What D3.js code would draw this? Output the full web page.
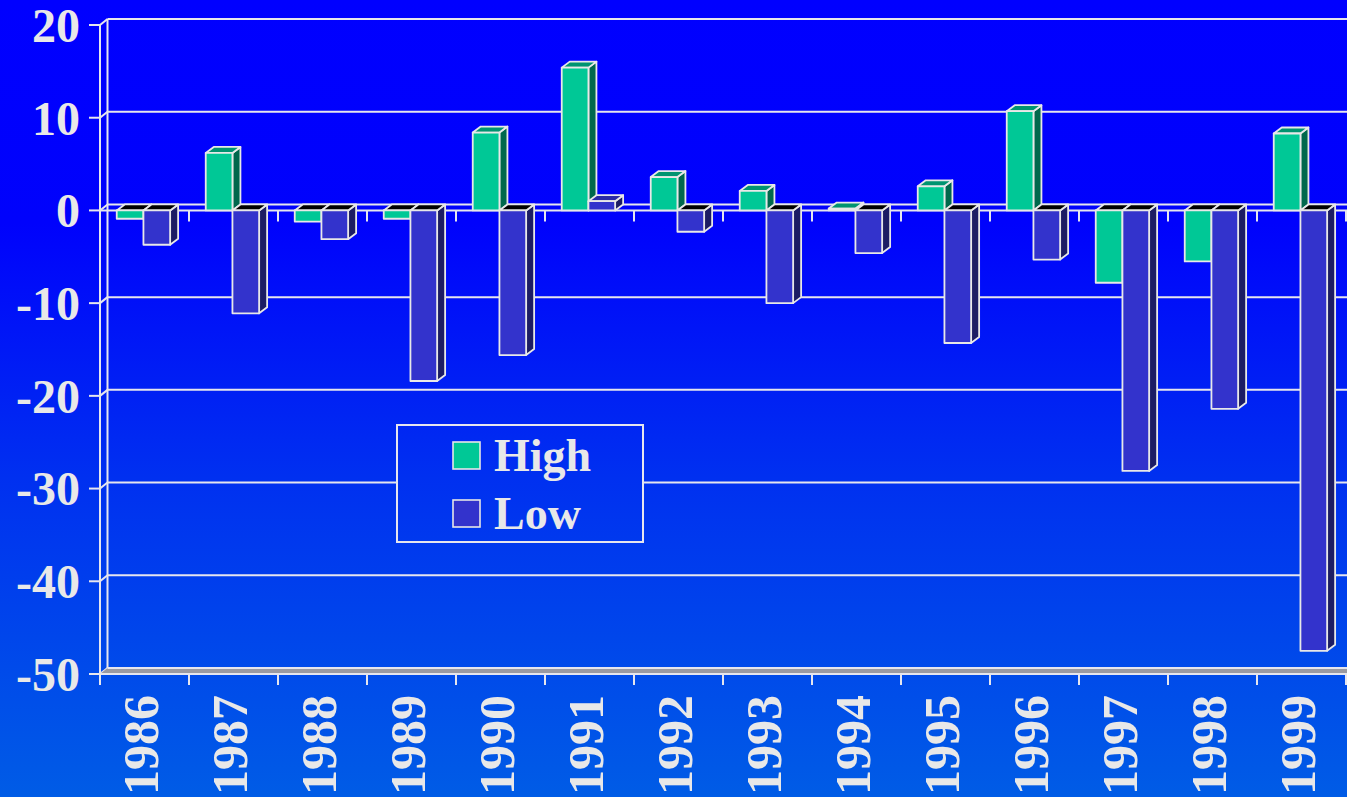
<!DOCTYPE html>
<html>
<head>
<meta charset="utf-8">
<script src="https://cdn.jsdelivr.net/npm/d3@7"></script>
<style>
  html, body { margin: 0; padding: 0; overflow: hidden; background: #0000ff; }
  svg { display: block; }
  text { font-family: "Liberation Serif", "Times New Roman", serif; font-weight: bold; fill: #e8e8e8; }
</style>
</head>
<body>
<script>
// Annual high / low changes, 1986–1999
const years = ["1986", "1987", "1988", "1989", "1990", "1991", "1992",
               "1993", "1994", "1995", "1996", "1997", "1998", "1999"];
const highValues = [-0.9, 6.2, -1.2, -0.9, 8.4, 15.4, 3.6, 2.1, 0.2, 2.6, 10.7, -7.8, -5.5, 8.3];
const lowValues = [-3.7, -11.1, -3.1, -18.4, -15.6, 1.0, -2.3, -10.0, -4.6, -14.3, -5.3, -28.1, -21.4, -47.5];
const seriesNames = ["High", "Low"];
const yTicks = [20, 10, 0, -10, -20, -30, -40, -50];

const W = 1347, H = 797;
const left = 100, right = 1346;
const depth = { dx: 7.5, dy: -6 };      // wall depth
const barDepth = { dx: 8, dy: -6 };     // bar depth
const lineColor = "#e6e6ee";

const colors = {
  High: { front: "#00c896", side: "#00684c", top: "#009470" },
  Low:  { front: "#3333cc", side: "#1c1c64", top: "#2a2aa6" }
};

const svg = d3.select("body").append("svg").attr("width", W).attr("height", H);

// background gradient (shared by the legend box)
const defs = svg.append("defs");
const grad = defs.append("linearGradient").attr("id", "bg")
  .attr("gradientUnits", "userSpaceOnUse")
  .attr("x1", 0).attr("y1", 0).attr("x2", 0).attr("y2", H);
[[0, "#0000ff"], [0.28, "#0002fc"], [0.6, "#0030f0"], [1, "#005ce6"]]
  .forEach(([o, c]) => grad.append("stop").attr("offset", o).attr("stop-color", c));
svg.append("rect").attr("width", W).attr("height", H).attr("fill", "url(#bg)");

const y = d3.scaleLinear().domain([-50, 20]).range([674, 25]);
const x0 = d3.scaleBand().domain(years).range([left, right]).padding(0);
const x1 = d3.scaleBand().domain(seriesNames).range([0, x0.bandwidth()])
  .paddingInner(0).paddingOuter(0.667).align(0.47);

const g = svg.append("g");

// back wall gridlines and left wall connectors
yTicks.filter(v => v > -50).forEach(v => {
  const yf = y(v);
  g.append("line").attr("x1", left + depth.dx).attr("x2", W + 10)
    .attr("y1", yf + depth.dy).attr("y2", yf + depth.dy)
    .attr("stroke", lineColor).attr("stroke-width", 2);
});
yTicks.forEach(v => {
  const yf = y(v);
  g.append("line").attr("x1", left).attr("y1", yf)
    .attr("x2", left + depth.dx).attr("y2", yf + depth.dy)
    .attr("stroke", lineColor).attr("stroke-width", 2);
  g.append("line").attr("x1", left - 11).attr("x2", left)
    .attr("y1", yf).attr("y2", yf)
    .attr("stroke", lineColor).attr("stroke-width", 2);
});

// back wall vertical edge
g.append("line").attr("x1", left + depth.dx).attr("x2", left + depth.dx)
  .attr("y1", y(20) + depth.dy).attr("y2", y(-50) + depth.dy)
  .attr("stroke", lineColor).attr("stroke-width", 2);

// floor
const yb = y(-50);
g.append("path")
  .attr("d", `M${left},${yb}L${left + depth.dx},${yb + depth.dy}L${W + 10},${yb + depth.dy}L${W + 10},${yb}Z`)
  .attr("fill", "#9a9aa2").attr("stroke", "none");
g.append("line").attr("x1", left + depth.dx).attr("x2", W + 10)
  .attr("y1", yb + depth.dy).attr("y2", yb + depth.dy)
  .attr("stroke", lineColor).attr("stroke-width", 2);
g.append("line").attr("x1", left).attr("x2", W + 10)
  .attr("y1", yb).attr("y2", yb)
  .attr("stroke", lineColor).attr("stroke-width", 2);

// front value axis
g.append("line").attr("x1", left).attr("x2", left)
  .attr("y1", y(20)).attr("y2", yb + 11)
  .attr("stroke", lineColor).attr("stroke-width", 2);

// category ticks along the floor and along the zero plane
const bounds = years.map(d => x0(d)).concat([right]);
bounds.forEach((bx, i) => {
  g.append("line").attr("x1", bx).attr("x2", bx).attr("y1", yb).attr("y2", yb + 11)
    .attr("stroke", lineColor).attr("stroke-width", 2);
  if (i > 0) {
    g.append("line").attr("x1", bx).attr("x2", bx).attr("y1", y(0)).attr("y2", y(0) + 11)
      .attr("stroke", lineColor).attr("stroke-width", 2);
  }
});

// zero plane front edge
g.append("line").attr("x1", left).attr("x2", W + 10)
  .attr("y1", y(0)).attr("y2", y(0))
  .attr("stroke", lineColor).attr("stroke-width", 2);

// 3D bars
const bars = [];
years.forEach((yr, i) => {
  bars.push({ year: yr, series: "High", value: highValues[i] });
  bars.push({ year: yr, series: "Low", value: lowValues[i] });
});

const barG = svg.append("g");
bars.forEach(b => {
  const bx = x0(b.year) + x1(b.series);
  const bw = x1.bandwidth();
  const yv = y(b.value), y0 = y(0);
  const top = Math.min(yv, y0), bot = Math.max(yv, y0);
  const c = colors[b.series];
  const dx = barDepth.dx, dy = barDepth.dy;
  const bg = barG.append("g").attr("stroke", "#e8e8e8").attr("stroke-width", 1.8)
    .attr("stroke-linejoin", "round");
  bg.append("path")
    .attr("d", `M${bx + bw},${top}L${bx + bw + dx},${top + dy}L${bx + bw + dx},${bot + dy}L${bx + bw},${bot}Z`)
    .attr("fill", c.side);
  bg.append("path")
    .attr("d", `M${bx},${top}L${bx + dx},${top + dy}L${bx + bw + dx},${top + dy}L${bx + bw},${top}Z`)
    .attr("fill", b.value >= 0 ? c.top : "#000000");
  bg.append("rect").attr("x", bx).attr("y", top).attr("width", bw).attr("height", Math.max(bot - top, 0.01))
    .attr("fill", c.front);
});

// value labels
svg.append("g").selectAll("text").data(yTicks).join("text")
  .attr("x", 80).attr("y", d => y(d)).attr("dy", "0.35em")
  .attr("text-anchor", "end").style("font-size", "48px")
  .text(d => d);

// year labels
svg.append("g").selectAll("text").data(years).join("text")
  .attr("transform", d => `translate(${x0(d) + x0.bandwidth() / 2 + 13.5},695) rotate(-90)`)
  .attr("text-anchor", "end").style("font-size", "50px")
  .text(d => d);

// legend
const lg = svg.append("g");
lg.append("rect").attr("x", 397).attr("y", 425).attr("width", 246).attr("height", 117)
  .attr("fill", "url(#bg)").attr("stroke", lineColor).attr("stroke-width", 2);
seriesNames.forEach((s, i) => {
  const yy = 442 + i * 58;
  lg.append("rect").attr("x", 453).attr("y", yy).attr("width", 27).attr("height", 27)
    .attr("fill", colors[s].front).attr("stroke", "#e6e6e6").attr("stroke-width", 1.6);
  lg.append("text").attr("x", 494).attr("y", yy + 29).style("font-size", "46px").text(s);
});
</script>
</body>
</html>
